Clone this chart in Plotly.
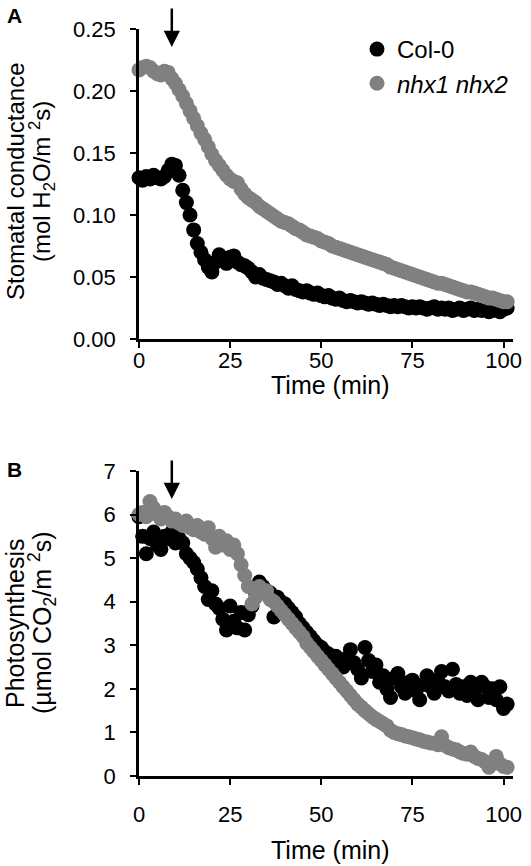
import plotly.graph_objects as go

# ---------------- data ----------------
time_min = list(range(0, 102))

# Panel A: stomatal conductance (mol H2O / m2 s)
col0_gs = [0.130, 0.128, 0.131, 0.129, 0.132, 0.130, 0.129, 0.131, 0.136, 0.141,
           0.140, 0.132, 0.120, 0.110, 0.100, 0.088, 0.077, 0.070, 0.064, 0.058,
           0.054, 0.062, 0.068, 0.064, 0.061, 0.066, 0.067, 0.062, 0.060, 0.059,
           0.057, 0.054, 0.050, 0.052, 0.049, 0.048, 0.047, 0.046, 0.044, 0.045,
           0.043, 0.041, 0.043, 0.040, 0.039, 0.038, 0.039, 0.037, 0.036, 0.037,
           0.035, 0.034, 0.035, 0.033, 0.032, 0.033, 0.031, 0.030, 0.031, 0.030,
           0.029, 0.030, 0.029, 0.028, 0.029, 0.028, 0.027, 0.028, 0.027, 0.026,
           0.027, 0.026, 0.027, 0.026, 0.025, 0.026, 0.025, 0.026, 0.025, 0.024,
           0.025, 0.026, 0.024, 0.025, 0.024, 0.025, 0.023, 0.024, 0.025, 0.023,
           0.024, 0.025, 0.023, 0.024, 0.023, 0.024, 0.022, 0.023, 0.024, 0.022,
           0.024, 0.025]
nhx_gs = [0.217, 0.219, 0.220, 0.219, 0.216, 0.214, 0.213, 0.216, 0.215, 0.210,
          0.206, 0.201, 0.196, 0.190, 0.184, 0.178, 0.172, 0.166, 0.161, 0.155,
          0.149, 0.144, 0.140, 0.136, 0.132, 0.129, 0.127, 0.126, 0.121, 0.117,
          0.114, 0.112, 0.110, 0.107, 0.105, 0.103, 0.101, 0.099, 0.097, 0.095,
          0.094, 0.093, 0.091, 0.089, 0.088, 0.086, 0.084, 0.083, 0.082, 0.081,
          0.079, 0.078, 0.077, 0.075, 0.074, 0.073, 0.072, 0.071, 0.070, 0.069,
          0.068, 0.067, 0.066, 0.065, 0.064, 0.063, 0.062, 0.061, 0.060, 0.058,
          0.057, 0.056, 0.055, 0.054, 0.053, 0.052, 0.051, 0.050, 0.049, 0.048,
          0.047, 0.046, 0.045, 0.045, 0.044, 0.043, 0.042, 0.041, 0.040, 0.039,
          0.038, 0.038, 0.037, 0.036, 0.035, 0.034, 0.033, 0.033, 0.032, 0.031,
          0.030, 0.030]

# Panel B: photosynthesis (umol CO2 / m2 s)
col0_ps = [5.95, 5.50, 5.10, 5.45, 5.60, 5.30, 5.20, 5.50, 5.45, 5.60,
           5.35, 5.45, 5.35, 5.10, 5.00, 4.90, 4.75, 4.55, 4.35, 4.05,
           4.25, 3.95, 3.85, 3.60, 3.35, 3.90, 3.55, 3.40, 3.75, 3.35,
           3.70, 3.90, 4.20, 4.45, 4.35, 4.25, 4.20, 3.65, 4.10, 4.00,
           3.95, 3.85, 3.75, 3.65, 3.50, 3.40, 3.30, 3.20, 3.10, 3.00,
           2.95, 2.85, 2.80, 2.70, 2.75, 2.55, 2.50, 2.70, 2.90, 2.60,
           2.45, 2.25, 2.95, 2.65, 2.40, 2.55, 2.15, 2.30, 2.00, 1.80,
           2.25, 2.35, 2.05, 1.90, 2.15, 2.20, 1.95, 1.75, 2.10, 2.30,
           2.05, 1.90, 2.20, 2.40, 2.05, 1.95, 2.45, 2.10, 1.90, 2.05,
           1.85, 2.15, 2.00, 1.75, 2.15, 2.05, 1.80, 2.00, 1.75, 2.05,
           1.55, 1.65]
nhx_ps = [6.00, 6.05, 5.95, 6.30, 6.15, 6.00, 5.90, 6.05, 5.95, 5.85,
          5.90, 5.80, 5.75, 5.85, 5.70, 5.65, 5.75, 5.60, 5.55, 5.70,
          5.45, 5.25, 5.50, 5.30, 5.40, 5.20, 5.30, 5.10, 4.85, 4.60,
          4.35, 3.95, 4.10, 4.35, 4.20, 4.25, 4.05, 4.00, 3.90, 3.80,
          3.70, 3.60, 3.50, 3.40, 3.30, 3.20, 3.05, 2.95, 2.85, 2.75,
          2.65, 2.55, 2.45, 2.35, 2.25, 2.15, 2.05, 1.95, 1.85, 1.75,
          1.65, 1.58, 1.50, 1.43, 1.36, 1.30, 1.25, 1.20, 1.15, 1.05,
          1.00, 0.97, 0.95, 0.92, 0.90, 0.88, 0.85, 0.83, 0.80, 0.78,
          0.76, 0.75, 0.72, 0.90, 0.70, 0.65, 0.62, 0.60, 0.55, 0.52,
          0.50, 0.55, 0.45, 0.40, 0.38, 0.32, 0.20, 0.30, 0.45, 0.28,
          0.22, 0.20]

series_names = ["Col-0", "<i>nhx1 nhx2</i>"]
series_colors = ["#000000", "#808080"]
treatment_time = 9

x_ticks = [0, 25, 50, 75, 100]
a_ticks = [0.00, 0.05, 0.10, 0.15, 0.20, 0.25]
b_ticks = [0, 1, 2, 3, 4, 5, 6, 7]

# ---------------- figure ----------------
W, H = 531, 866
FONT = "Liberation Sans, Arial, Helvetica, sans-serif"
MS = 15

def px(x):
    return x / W

def py(y):
    return 1 - y / H

fig = go.Figure()

for name, color, ys in [(series_names[0], series_colors[0], col0_gs),
                        (series_names[1], series_colors[1], nhx_gs)]:
    fig.add_trace(go.Scatter(x=time_min, y=ys, mode="markers", name=name,
                             marker=dict(color=color, size=MS, line=dict(width=0)),
                             cliponaxis=False, showlegend=True,
                             xaxis="x", yaxis="y"))
for name, color, ys in [(series_names[0], series_colors[0], col0_ps),
                        (series_names[1], series_colors[1], nhx_ps)]:
    fig.add_trace(go.Scatter(x=time_min, y=ys, mode="markers", name=name,
                             marker=dict(color=color, size=MS, line=dict(width=0)),
                             cliponaxis=False, showlegend=False,
                             xaxis="x2", yaxis="y2"))

axis_common = dict(showline=True, linewidth=2.5, linecolor="black",
                   ticks="outside", ticklen=6, tickwidth=2, tickcolor="black",
                   showgrid=False, zeroline=False, automargin=False,
                   tickfont=dict(family=FONT, size=22, color="black"))

xdom = [px(139), px(513)]
fig.update_layout(
    width=W, height=H,
    margin=dict(l=0, r=0, t=0, b=0, pad=0, autoexpand=False),
    paper_bgcolor="white", plot_bgcolor="white",
    font=dict(family=FONT, color="black"),
    xaxis=dict(domain=xdom, range=[0, 102.6], tickvals=x_ticks, anchor="y",
               ticklabelstandoff=-6, **axis_common),
    yaxis=dict(domain=[py(339), py(29)], range=[0, 0.25], tickvals=a_ticks,
               tickformat=".2f", anchor="x", ticklabelstandoff=10, **axis_common),
    xaxis2=dict(domain=xdom, range=[0, 102.6], tickvals=x_ticks, anchor="y2",
                ticklabelstandoff=11, **axis_common),
    yaxis2=dict(domain=[py(776), py(471)], range=[0, 7], tickvals=b_ticks,
                anchor="x2", ticklabelstandoff=10, **axis_common),
    legend=dict(x=px(357), y=py(27), xanchor="left", yanchor="top",
                font=dict(family=FONT, size=24, color="black"),
                bgcolor="rgba(0,0,0,0)", itemwidth=30, tracegroupgap=0),
    showlegend=True,
)

ann = []
def text_ann(text, x, y, size=24, angle=0):
    ann.append(dict(text=text, x=px(x), y=py(y), xref="paper", yref="paper",
                    xanchor="center", yanchor="middle", showarrow=False,
                    textangle=angle, font=dict(family=FONT, size=size, color="black")))

text_ann("<b>A</b>", 14, 15, size=21)
text_ann("<b>B</b>", 14, 469, size=21)
text_ann("Stomatal conductance", 15, 182, angle=-90)
text_ann("(mol H<sub>2</sub>O/m <sup>2</sup>s)", 42, 182, angle=-90)
text_ann("Photosynthesis", 15, 623, angle=-90, size=25)
text_ann("(µmol CO<sub>2</sub>/m <sup>2</sup>s)", 42, 623, angle=-90, size=25)
text_ann("Time (min)", 330, 385, size=25)
text_ann("Time (min)", 330, 850, size=25)

# treatment arrows
for xr, yr, tip in [("x", "y", 0.2355), ("x2", "y2", 6.36)]:
    ann.append(dict(x=treatment_time, y=tip, xref=xr, yref=yr, text="",
                    showarrow=True, ax=0, ay=-40, arrowhead=2, arrowsize=1.3,
                    arrowwidth=2.5, arrowcolor="black"))

fig.update_layout(annotations=ann)
fig.write_html("out.html",
               config={"displayModeBar": False},
               post_script="document.body.style.margin='0px';"
                           "document.body.style.overflow='hidden';")
